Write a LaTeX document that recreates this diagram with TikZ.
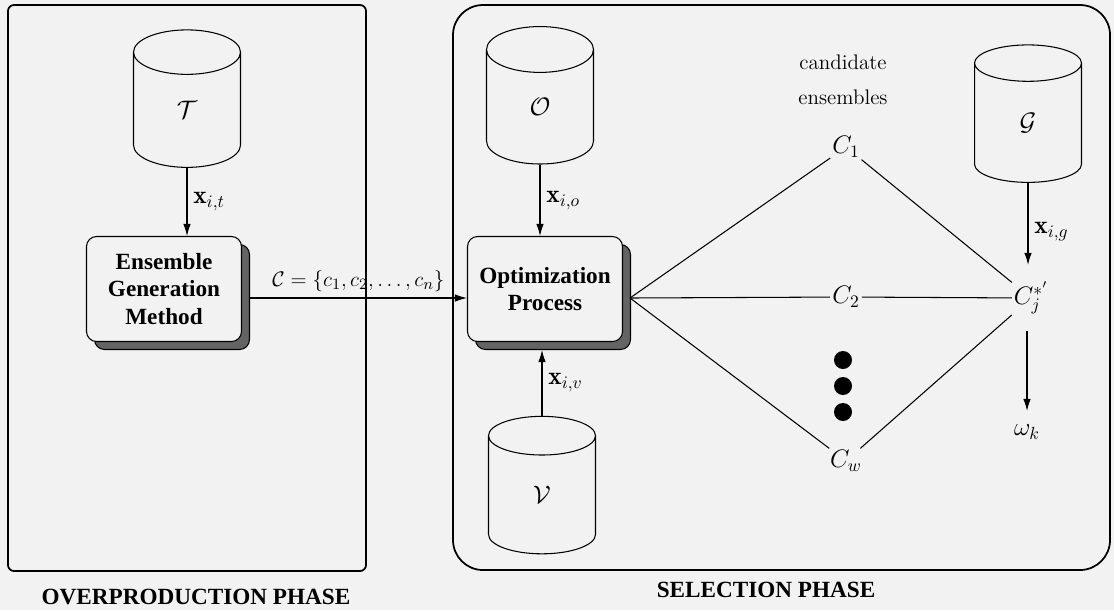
\documentclass[tikz,border=0pt]{standalone}
\usepackage{fontspec}
\newfontfamily\tms{Liberation Serif}
\usetikzlibrary{shapes.geometric,shadows,arrows.meta}

\definecolor{paper}{RGB}{242,242,242}
\definecolor{shade}{RGB}{100,100,100}

\tikzset{
	db/.style={cylinder, shape border rotate=90, aspect=2.2, draw, semithick,
		minimum width=2.14cm, minimum height=2.75cm, inner sep=0pt},
	procbox/.style={draw, semithick, fill=paper, rounded corners=2mm, align=center,
		minimum width=3.1cm, minimum height=2.1cm,
		font=\tms\bfseries\fontsize{13.2}{15.6}\selectfont,
		copy shadow={shadow xshift=1.6mm, shadow yshift=-1.6mm, fill=shade, draw=black, semithick}},
	phasebox/.style={draw, line width=1pt},
	phase/.style={font=\tms\bfseries\fontsize{13.2}{15.6}\selectfont},
	cand/.style={inner sep=1pt},
	flow/.style={semithick, -{Latex[length=2.4mm,width=1.5mm]}},
	dot/.style={circle, fill=black, minimum size=3.6mm, inner sep=0pt}
}

\begin{document}
\begin{tikzpicture}[x=0.02cm, y=-0.02cm, font=\fontsize{14.4}{17}\selectfont]
		\fill[paper] (0,0) rectangle (1114,610);
		\useasboundingbox (0,0) rectangle (1114,610);
		
		% the two phases
		\draw[phasebox, rounded corners=1.2mm] (8,5) rectangle (366,571);
		\draw[phasebox, rounded corners=6mm] (453,5) rectangle (1110,570);
		\node[phase] (overlbl) at (196,597) {OVERPRODUCTION PHASE};
		\node[phase] (sellbl) at (766,590) {SELECTION PHASE};
		
		% overproduction
		\node[db] (T) at (187,110) {$\mathcal{T}$};
		\node[procbox] (gen) at (164,289) {Ensemble\\Generation\\Method};
		
		\draw[flow] (T.south) -- (T.south |- gen.north) node[midway, right] {$\mathbf{x}_{i,t}$};
		
		% selection
		\node[db] (O) at (540,107) {$\mathcal{O}$};
		\node[procbox] (opt) at (545,289) {Optimization\\Process};
		\node[db] (V) at (542,495) {$\mathcal{V}$};
		\node[db] (G) at (1028,123) {$\mathcal{G}$};
		
		\draw[flow] ([xshift=1.6mm, yshift=-1.8mm]gen.east) -- ([yshift=-1.8mm]opt.west)
			node[midway, above, font=\fontsize{13}{15}\selectfont] {$\mathcal{C}=\{c_1,c_2,\dots,c_n\}$};
		\draw[flow] (O.south) -- (O.south |- opt.north) node[midway, right] {$\mathbf{x}_{i,o}$};
		\draw[flow] (V.north) -- ([yshift=-1.6mm]V.north |- opt.south) node[midway, right] {$\mathbf{x}_{i,v}$};
		
		\node[align=center, font=\large] (candlbl) at (843,80) {candidate\\[6pt]ensembles};
		
		\coordinate (fan) at (630,298);
		\node[cand] (c1) at (846,147) {$C_1$};
		\node[cand] (c2) at (846,297) {$C_2$};
		\node[cand] (cw) at (846,461) {$C_w$};
		\node[cand] (cj) at (1031,298) {$C_j^{*'}$};
		\node (om) at (1027,432) {$\omega_k$};
		
		\node[dot] (d1) at (843,360) {};
		\node[dot] (d2) at (843,386) {};
		\node[dot] (d3) at (843,412) {};
		
		\draw[semithick] (fan) -- (c1);
		\draw[semithick] (fan) -- (c2);
		\draw[semithick] (fan) -- (cw);
		\draw[semithick] (c1) -- (cj);
		\draw[semithick] (c2) -- (cj);
		\draw[semithick] (cw) -- (cj);
		
		\draw[flow, shorten >=3mm] (G.south) -- (G.south |- cj.north) node[midway, right] {$\mathbf{x}_{i,g}$};
		\draw[flow, shorten >=1.5mm] ([yshift=-3mm]cj.south -| om) -- (om.north);
	\end{tikzpicture}
\end{document}
